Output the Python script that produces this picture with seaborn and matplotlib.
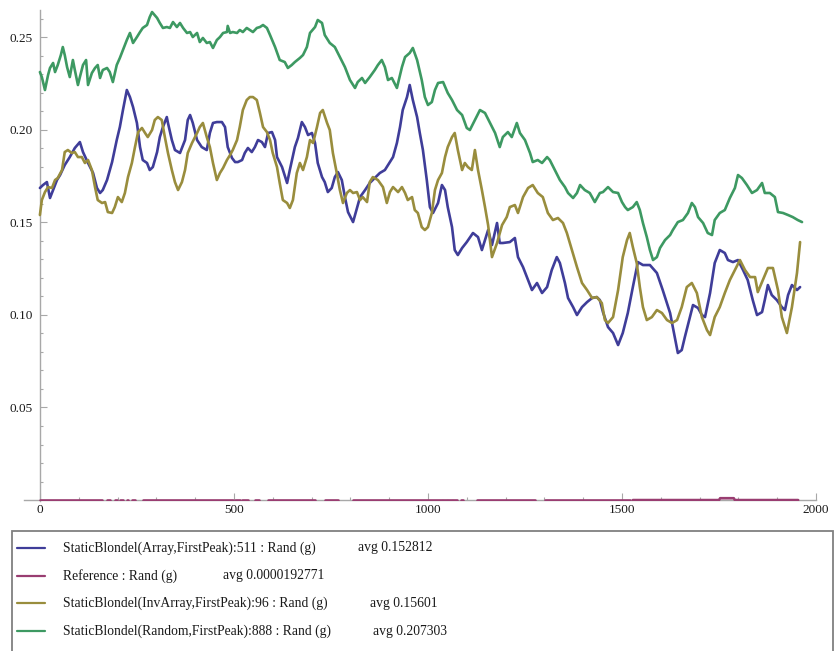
import numpy as np
import pandas as pd
import matplotlib
matplotlib.use("Agg")
import matplotlib.pyplot as plt
import seaborn as sns
from matplotlib.ticker import FixedLocator, FormatStrFormatter
from matplotlib.lines import Line2D
from matplotlib.patches import Rectangle

# ---------------------------------------------------------------- data
series_names = [
    "StaticBlondel(Array,FirstPeak):511 : Rand (g)",
    "Reference : Rand (g)",
    "StaticBlondel(InvArray,FirstPeak):96 : Rand (g)",
    "StaticBlondel(Random,FirstPeak):888 : Rand (g)",
]
series_avgs = ["avg 0.152812", "avg 0.0000192771", "avg 0.15601", "avg 0.207303"]

array_x = [
    0, 8, 18, 26, 34, 44, 52, 64, 77, 90,
    103, 111, 124, 137, 147, 155, 162, 173, 186, 198,
    206, 214, 224, 232, 240, 250, 258, 265, 276, 283,
    291, 302, 309, 317, 327, 330, 340, 348, 361, 374,
    381, 387, 394, 405, 417, 430, 438, 446, 456, 469,
    477, 484, 495, 503, 510, 521, 528, 536, 546, 554,
    562, 572, 580, 588, 598, 606, 611, 624, 637, 644,
    657, 665, 675, 683, 691, 701, 709, 716, 727, 734,
    742, 752, 760, 768, 778, 786, 794, 807, 817, 825,
    838, 850, 863, 876, 889, 897, 910, 920, 928, 935,
    946, 953, 961, 972, 979, 987, 997, 1005, 1013, 1026,
    1036, 1044, 1051, 1062, 1069, 1077, 1088, 1100, 1116, 1129,
    1139, 1147, 1155, 1165, 1178, 1185, 1193, 1211, 1224, 1232,
    1245, 1258, 1268, 1281, 1294, 1307, 1319, 1332, 1340, 1353,
    1361, 1374, 1384, 1397, 1410, 1423, 1435, 1443, 1451, 1464,
    1477, 1490, 1502, 1515, 1528, 1541, 1554, 1572, 1590, 1605,
    1624, 1636, 1644, 1654, 1662, 1675, 1683, 1696, 1706, 1714,
    1727, 1739, 1752, 1765, 1773, 1786, 1799, 1812, 1824, 1837,
    1848, 1861, 1868, 1876, 1886, 1899, 1912, 1920, 1928, 1938,
    1951, 1959,
]
array_y = [
    .1685, .1701, .1717, .1631, .1674, .1728, .1755, .1809, .1852, .1901,
    .1933, .1879, .1820, .1766, .1685, .1658, .1674, .1728, .1825, .1944,
    .2014, .2106, .2214, .2176, .2122, .2036, .1906, .1836, .1820, .1782,
    .1798, .1879, .1960, .2014, .2068, .2036, .1944, .1890, .1874, .1944,
    .2052, .2079, .2036, .1944, .1906, .1890, .1982, .2036, .2041, .2041,
    .2014, .1906, .1847, .1825, .1825, .1836, .1874, .1901, .1879, .1906,
    .1944, .1933, .1906, .1982, .1987, .1944, .1852, .1798, .1712, .1782,
    .1906, .1955, .2041, .2014, .1971, .1982, .1928, .1820, .1744, .1717,
    .1663, .1685, .1744, .1771, .1728, .1636, .1555, .1501, .1577, .1636,
    .1674, .1712, .1739, .1766, .1782, .1809, .1852, .1928, .2014, .2106,
    .2176, .2241, .2160, .2068, .1982, .1890, .1728, .1582, .1550, .1604,
    .1701, .1674, .1582, .1474, .1350, .1323, .1361, .1393, .1442, .1420,
    .1350, .1404, .1458, .1377, .1496, .1388, .1388, .1393, .1415, .1312,
    .1258, .1188, .1134, .1172, .1118, .1150, .1242, .1312, .1280, .1172,
    .1091, .1042, .0999, .1042, .1069, .1091, .1096, .1080, .1015, .0934,
    .0902, .0837, .0902, .1010, .1150, .1285, .1269, .1269, .1226, .1134,
    .1010, .0880, .0794, .0810, .0880, .0988, .1053, .1037, .0999, .0988,
    .1118, .1280, .1350, .1334, .1296, .1285, .1296, .1242, .1188, .1080,
    .0999, .1015, .1080, .1161, .1107, .1080, .1042, .1026, .1107, .1161,
    .1134, .1150,
]

inv_x = [
    0, 5, 13, 21, 31, 39, 46, 57, 64, 72,
    82, 90, 98, 108, 116, 124, 134, 142, 149, 160,
    168, 175, 186, 193, 201, 211, 219, 227, 237, 245,
    253, 263, 271, 278, 289, 296, 304, 314, 322, 330,
    340, 348, 356, 366, 374, 381, 392, 405, 412, 420,
    430, 438, 446, 456, 464, 472, 482, 490, 497, 508,
    515, 523, 533, 541, 549, 559, 567, 575, 585, 593,
    600, 611, 618, 626, 637, 644, 652, 662, 670, 678,
    688, 696, 704, 714, 722, 729, 740, 747, 755, 765,
    773, 781, 791, 799, 807, 817, 825, 832, 843, 850,
    858, 871, 884, 894, 902, 910, 923, 933, 941, 948,
    959, 966, 974, 984, 992, 1000, 1010, 1018, 1026, 1036,
    1044, 1051, 1062, 1069, 1077, 1088, 1095, 1103, 1113, 1121,
    1129, 1139, 1147, 1155, 1165, 1178, 1191, 1203, 1211, 1224,
    1232, 1245, 1258, 1270, 1283, 1296, 1309, 1322, 1335, 1348,
    1358, 1371, 1384, 1397, 1410, 1423, 1435, 1448, 1456, 1464,
    1477, 1490, 1502, 1513, 1520, 1528, 1538, 1546, 1554, 1564,
    1577, 1590, 1603, 1616, 1629, 1642, 1654, 1667, 1680, 1693,
    1706, 1719, 1727, 1739, 1752, 1765, 1778, 1791, 1804, 1817,
    1830, 1843, 1850, 1863, 1876, 1889, 1902, 1912, 1925, 1938,
    1951, 1959,
]
inv_y = [
    .1539, .1620, .1663, .1690, .1685, .1728, .1739, .1782, .1879, .1890,
    .1874, .1879, .1852, .1852, .1820, .1836, .1782, .1690, .1620, .1604,
    .1609, .1555, .1550, .1582, .1636, .1609, .1658, .1744, .1820, .1906,
    .1987, .2009, .1982, .1960, .1998, .2052, .2068, .2052, .1960, .1874,
    .1782, .1717, .1674, .1717, .1782, .1874, .1928, .1982, .2014, .2036,
    .1960, .1906, .1820, .1728, .1766, .1793, .1836, .1863, .1890, .1944,
    .2014, .2106, .2160, .2176, .2176, .2160, .2090, .2014, .1987, .1944,
    .1874, .1798, .1712, .1620, .1604, .1577, .1620, .1766, .1820, .1782,
    .1852, .1944, .1928, .2014, .2090, .2106, .2036, .1998, .1874, .1766,
    .1674, .1604, .1658, .1674, .1658, .1663, .1620, .1636, .1609, .1717,
    .1744, .1728, .1690, .1604, .1663, .1690, .1663, .1690, .1658, .1620,
    .1636, .1566, .1550, .1474, .1458, .1474, .1550, .1674, .1728, .1766,
    .1852, .1906, .1960, .1982, .1890, .1782, .1820, .1798, .1782, .1890,
    .1782, .1674, .1582, .1485, .1312, .1388, .1485, .1528, .1582, .1593,
    .1550, .1636, .1685, .1701, .1658, .1636, .1550, .1512, .1523, .1496,
    .1442, .1350, .1258, .1172, .1134, .1091, .1096, .1064, .0972, .0956,
    .0988, .1134, .1312, .1404, .1442, .1366, .1280, .1150, .1042, .0972,
    .0988, .1026, .1010, .0972, .0956, .0972, .1042, .1150, .1172, .1118,
    .0988, .0918, .0891, .0988, .1042, .1118, .1188, .1242, .1296, .1242,
    .1204, .1204, .1123, .1188, .1253, .1253, .1134, .0988, .0902, .1042,
    .1226, .1393,
]

random_x = [
    0, 5, 13, 21, 26, 34, 39, 46, 54, 59,
    64, 70, 77, 85, 90, 98, 103, 111, 119, 124,
    134, 142, 149, 155, 162, 173, 180, 188, 198, 206,
    214, 224, 232, 240, 250, 258, 265, 276, 283, 289,
    302, 309, 317, 327, 335, 343, 353, 361, 369, 379,
    387, 394, 405, 412, 420, 430, 438, 446, 456, 464,
    472, 482, 484, 490, 497, 508, 515, 523, 533, 541,
    549, 559, 567, 575, 585, 593, 606, 618, 631, 639,
    649, 657, 670, 678, 688, 696, 709, 716, 727, 734,
    747, 760, 773, 786, 799, 812, 819, 830, 838, 850,
    863, 871, 881, 889, 897, 907, 920, 933, 941, 953,
    961, 972, 984, 992, 1000, 1010, 1018, 1026, 1039, 1051,
    1062, 1075, 1088, 1100, 1108, 1121, 1134, 1147, 1160, 1173,
    1185, 1193, 1206, 1216, 1229, 1237, 1250, 1263, 1270, 1283,
    1294, 1307, 1314, 1327, 1340, 1353, 1361, 1374, 1384, 1392,
    1404, 1417, 1430, 1443, 1451, 1464, 1477, 1490, 1500, 1508,
    1515, 1528, 1538, 1546, 1554, 1564, 1572, 1580, 1590, 1598,
    1611, 1624, 1631, 1644, 1657, 1670, 1680, 1688, 1696, 1709,
    1721, 1732, 1739, 1752, 1765, 1778, 1791, 1799, 1809, 1822,
    1835, 1848, 1861, 1868, 1881, 1894, 1902, 1915, 1928, 1940,
    1953, 1964,
]
random_y = [
    .2311, .2284, .2214, .2295, .2333, .2360, .2311, .2349, .2403, .2446,
    .2403, .2338, .2284, .2376, .2322, .2241, .2284, .2349, .2376, .2241,
    .2306, .2333, .2349, .2279, .2322, .2333, .2311, .2257, .2349, .2387,
    .2430, .2484, .2522, .2468, .2500, .2527, .2549, .2565, .2608, .2635,
    .2603, .2576, .2549, .2554, .2549, .2581, .2554, .2576, .2549, .2522,
    .2527, .2500, .2522, .2473, .2495, .2468, .2473, .2441, .2484, .2500,
    .2522, .2527, .2560, .2522, .2527, .2522, .2538, .2527, .2549, .2538,
    .2527, .2549, .2554, .2565, .2549, .2511, .2446, .2376, .2365, .2333,
    .2349, .2365, .2387, .2403, .2446, .2522, .2554, .2592, .2576, .2511,
    .2468, .2446, .2392, .2338, .2268, .2225, .2257, .2279, .2252, .2284,
    .2322, .2349, .2376, .2338, .2268, .2279, .2225, .2338, .2392, .2414,
    .2441, .2376, .2268, .2176, .2133, .2149, .2214, .2252, .2257, .2198,
    .2160, .2106, .2079, .2009, .1998, .2052, .2106, .2090, .2036, .1982,
    .1906, .1960, .1987, .1960, .2036, .1982, .1944, .1874, .1825, .1836,
    .1820, .1852, .1836, .1782, .1728, .1690, .1658, .1631, .1658, .1701,
    .1674, .1658, .1609, .1658, .1663, .1690, .1663, .1658, .1609, .1582,
    .1566, .1582, .1609, .1566, .1496, .1420, .1350, .1296, .1312, .1361,
    .1404, .1431, .1458, .1501, .1512, .1550, .1604, .1582, .1528, .1496,
    .1442, .1431, .1512, .1550, .1566, .1631, .1685, .1755, .1739, .1701,
    .1658, .1674, .1712, .1658, .1658, .1636, .1555, .1550, .1539, .1528,
    .1512, .1501,
]

# reference run: NaN marks the steps with no value
nan = np.nan
ref_x = [0, 159, nan, 173, 180, nan, 193, 198, nan, 206, 214, nan, 224, 227, nan,
         237, 245, nan, 266, 498, nan, 503, 515, nan, 520, 536, nan, 554, 564, nan,
         588, 709, nan, 734, 768, nan, 807, 1036, nan, 1039, 1049, nan, 1051, 1062, nan,
         1064, 1075, nan, 1086, 1090, nan, 1126, 1276, nan, 1301, 1520, nan,
         1528, 1750, 1753, 1788, 1791, 1954]
ref_y = [0, 0, nan, 0, 0, nan, 0, 0, nan, 0, 0, nan, 0, 0, nan,
         0, 0, nan, 0, 0, nan, 0, 0, nan, 0, 0, nan, 0, 0, nan,
         0, 0, nan, 0, 0, nan, 0, 0, nan, 0, 0, nan, 0, 0, nan,
         0, 0, nan, 0, 0, nan, 0, 0, nan, 0, 0, nan,
         0, 0, 0.001, 0.001, 0, 0]

x_ticks = [0, 500, 1000, 1500, 2000]
y_ticks = [0.05, 0.10, 0.15, 0.20, 0.25]

colors = ["#3f3d99", "#993d71", "#998d3d", "#3d9962"]

# ---------------------------------------------------------------- frame
rows = []
seg_id = 0
for name, xs, ys in [(series_names[0], array_x, array_y),
                     (series_names[2], inv_x, inv_y),
                     (series_names[3], random_x, random_y)]:
    for a, b in zip(xs, ys):
        rows.append((a, b, name, seg_id))
    seg_id += 1
for a, b in zip(ref_x, ref_y):
    if np.isnan(a):
        seg_id += 1
        continue
    rows.append((a, b, series_names[1], seg_id))
df = pd.DataFrame(rows, columns=["step", "rand", "series", "segment"])

# ---------------------------------------------------------------- figure
sns.set_style("white")
plt.rcParams["font.family"] = ["Liberation Serif", "DejaVu Serif"]

W, H = 836, 651
fig = plt.figure(figsize=(W / 100, H / 100), dpi=100)


def fx(px):
    return px / W


def fy(py):
    return 1 - py / H


ax = fig.add_axes([fx(24), fy(501), fx(816) - fx(24), fy(10) - fy(501)])

sns.lineplot(data=df, x="step", y="rand", hue="series", units="segment",
             estimator=None, sort=False, hue_order=series_names,
             palette=colors, linewidth=1.9, legend=False, ax=ax, zorder=3)

ax.set_xlim(-41, 2000)
ax.set_ylim(-0.0005, 0.2646)
ax.set_xlabel("")
ax.set_ylabel("")

axis_gray = "#a8a8a8"
for side in ["top", "right"]:
    ax.spines[side].set_visible(False)
for side in ["left", "bottom"]:
    ax.spines[side].set_position(("data", 0))
    ax.spines[side].set_color(axis_gray)
    ax.spines[side].set_linewidth(1.0)
    ax.spines[side].set_zorder(1)

ax.xaxis.set_major_locator(FixedLocator(x_ticks))
ax.xaxis.set_minor_locator(FixedLocator([v for v in range(100, 2000, 100) if v % 500]))
ax.yaxis.set_major_locator(FixedLocator(y_ticks))
ax.yaxis.set_minor_locator(FixedLocator([k / 100 for k in range(1, 27) if k % 5]))
ax.xaxis.set_major_formatter(FormatStrFormatter("%d"))
ax.yaxis.set_major_formatter(FormatStrFormatter("%.2f"))
ax.tick_params(which="both", direction="in", color=axis_gray, width=0.8,
               bottom=True, left=True, top=False, right=False,
               labelsize=9.5, labelcolor="#1a1a1a")
ax.tick_params(which="major", length=5)
ax.tick_params(which="minor", length=2.5)
ax.tick_params(axis="y", pad=5)
ax.tick_params(axis="x", pad=3)

# ---------------------------------------------------------------- legend panel
fig.patches.append(Rectangle((fx(12), fy(665)), fx(833) - fx(12), fy(531) - fy(665),
                             transform=fig.transFigure, fill=False,
                             edgecolor="#808080", linewidth=1.3))
rows_y = [548, 576, 603, 631]
avg_x = [358, 223, 370, 373]
for name, avg, col, py, ax_px in zip(series_names, series_avgs, colors, rows_y, avg_x):
    fig.add_artist(Line2D([fx(17), fx(45)], [fy(py), fy(py)], color=col,
                          linewidth=1.6, transform=fig.transFigure))
    fig.text(fx(63), fy(py), name, va="center", ha="left", fontsize=9.8, color="#1a1a1a")
    fig.text(fx(ax_px), fy(py), avg, va="center", ha="left", fontsize=9.8, color="#1a1a1a")

fig.savefig("out.png", dpi=100)
